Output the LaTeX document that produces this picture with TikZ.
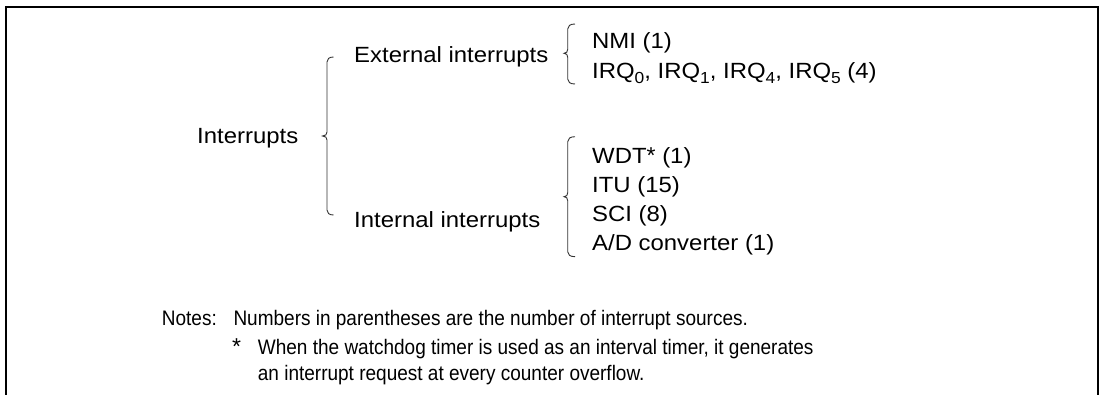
\documentclass[tikz,border=0pt]{standalone}
\usepackage{fontspec}
\setmainfont{Liberation Sans}
\newfontfamily\diagfont[FakeStretch=1.087]{Liberation Sans}
\newfontfamily\notefont[FakeStretch=0.905]{Liberation Sans}
\newfontfamily\astfont{Liberation Sans}
\newcommand\subd[1]{\raisebox{-4.5pt}{\fontsize{16}{16}\selectfont #1}}
\newcommand\astk{{\astfont\fontsize{23}{23}\selectfont *}}
\begin{document}
\begin{tikzpicture}[x=1pt,y=-1pt,
  lbl/.style={anchor=base west, inner sep=0pt, font=\diagfont\fontsize{22}{26}\selectfont},
  note/.style={anchor=base west, inner sep=0pt, font=\notefont\fontsize{21}{25}\selectfont},
  bracel/.style={draw=black!80, line width=0.9pt},
  frame/.style={draw=black, line width=1.8pt, line join=miter}]
\useasboundingbox (0,0) rectangle (1102,395);
% frame (open at the bottom)
\draw[frame] (6,396) -- (6,7) -- (1097.7,7) -- (1097.7,396);
% big brace
\draw[bracel] (333.5,57) .. controls (329,57) and (327,59) .. (327,62)
  -- (327,132) .. controls (327,134.5) and (325.5,136) .. (322.5,136)
  .. controls (325.5,136) and (327,137.5) .. (327,140)
  -- (327,210) .. controls (327,213) and (329,215) .. (333.5,215);
% external brace
\draw[bracel] (575,24) .. controls (570,24) and (567.7,26) .. (567.7,29)
  -- (567.7,49.3) .. controls (567.7,51.8) and (566.5,53.3) .. (564,53.3)
  .. controls (566.5,53.3) and (567.7,54.8) .. (567.7,57.3)
  -- (567.7,79) .. controls (567.7,82) and (570,84) .. (575,84);
% internal brace
\draw[bracel] (575,136.7) .. controls (570,136.7) and (567.7,138.7) .. (567.7,141.7)
  -- (567.7,192.7) .. controls (567.7,195.2) and (566.5,196.7) .. (564,196.7)
  .. controls (566.5,196.7) and (567.7,198.2) .. (567.7,200.7)
  -- (567.7,251.7) .. controls (567.7,254.7) and (570,256.7) .. (575,256.7);
% labels
\node[lbl] (intr) at (197,143.3) {Interrupts};
\node[lbl] (ext) at (354,62.3) {External interrupts};
\node[lbl] (int) at (354,227.3) {Internal interrupts};
\node[lbl] (nmi) at (592,48.3) {NMI (1)};
\node[lbl] (irq) at (592,79) {IRQ\subd{0}, IRQ\subd{1}, IRQ\subd{4}, IRQ\subd{5} (4)};
\node[lbl] (wdt) at (592,163.3) {WDT\astk\ (1)};
\node[lbl] (itu) at (592,192.7) {ITU (15)};
\node[lbl] (sci) at (592,221.7) {SCI (8)};
\node[lbl] (ad) at (592,251) {A/D converter (1)};
% notes
\node[note, anchor=base east] (notes) at (217,325) {Notes:};
\node[note] (n1) at (233.3,325) {Numbers in parentheses are the number of interrupt sources.};
\node[note] (n2) at (232,354) {\makebox[25.7pt][l]{\astk}When the watchdog timer is used as an interval timer, it generates};
\node[note] (n3) at (257.7,380.5) {an interrupt request at every counter overflow.};
\end{tikzpicture}
\end{document}
